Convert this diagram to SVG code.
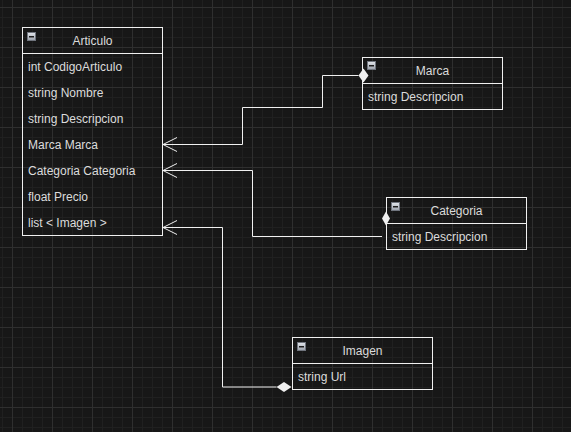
<svg xmlns="http://www.w3.org/2000/svg" width="571" height="432" viewBox="0 0 571 432">
  <defs>
    <pattern id="minor" patternUnits="userSpaceOnUse" x="2" y="7" width="10" height="10">
      <path d="M0,0.5 H10 M0.5,0 V10" stroke="#202020" stroke-width="1" fill="none"/>
    </pattern>
    <pattern id="major" patternUnits="userSpaceOnUse" x="12" y="7" width="40" height="40">
      <path d="M0,0.5 H40 M0.5,0 V40" stroke="#2f2f2f" stroke-width="1" fill="none"/>
    </pattern>
    <linearGradient id="ig" x1="0" y1="0" x2="0" y2="1">
      <stop offset="0" stop-color="#e4e7ec"/>
      <stop offset="1" stop-color="#9aa0aa"/>
    </linearGradient>
    <g id="minus">
      <rect x="0.5" y="0.5" width="8" height="8" fill="url(#ig)" stroke="#70757e" stroke-width="1"/>
      <rect x="2" y="4" width="5" height="1.5" fill="#1e1e1e"/>
    </g>
  </defs>
  <style>
    .box { fill: none; stroke: #f0f0f0; stroke-width: 1; }
    .title { font-family: "Liberation Sans", Arial, sans-serif; font-size: 12px; fill: #dcdcdc; text-anchor: middle; }
    .row { font-family: "Liberation Sans", Arial, sans-serif; font-size: 12px; fill: #dcdcdc; }
    .edge { fill: none; stroke: #f0f0f0; stroke-width: 1; }
    .diamond { fill: #f0f0f0; stroke: none; }
  </style>
  <rect width="571" height="432" fill="#171717"/>
  <rect width="571" height="432" fill="url(#minor)"/>
  <rect width="571" height="432" fill="url(#major)"/>

  <g id="connectors">
    <path class="edge" d="M358.5,75.5 H322.5 V107.5 H242.5 V144.5 H163"/>
    <polyline class="edge" points="177,137.5 163,144.5 177,151.5"/>
    <polygon class="diamond" points="358.5,75.5 363.5,68.5 368.5,75.5 363.5,82.5"/>

    <path class="edge" d="M382,236.5 H252.5 V170.5 H163"/>
    <polyline class="edge" points="177,163.5 163,170.5 177,177.5"/>
    <polygon class="diamond" points="382,218.5 386,211.5 390,218.5 386,225.5"/>

    <path class="edge" d="M276.5,387 H222.5 V227.5 H163"/>
    <polyline class="edge" points="177,220.5 163,227.5 177,234.5"/>
    <polygon class="diamond" points="276.5,387 284,382 291.5,387 284,392"/>
  </g>

  <g id="Articulo">
    <rect class="box" x="22.5" y="27.5" width="140" height="208"/>
    <line class="box" x1="22.5" y1="53.5" x2="162.5" y2="53.5"/>
    <use href="#minus" x="27" y="32"/>
    <text class="title" x="92.5" y="44.5">Articulo</text>
    <text class="row" x="28" y="70.5">int CodigoArticulo</text>
    <text class="row" x="28" y="96.5">string Nombre</text>
    <text class="row" x="28" y="122.5">string Descripcion</text>
    <text class="row" x="28" y="148.5">Marca Marca</text>
    <text class="row" x="28" y="174.5">Categoria Categoria</text>
    <text class="row" x="28" y="200.5">float Precio</text>
    <text class="row" x="28" y="226.5">list &lt; Imagen &gt;</text>
  </g>

  <g id="Marca">
    <rect class="box" x="362.5" y="57.5" width="140" height="52"/>
    <line class="box" x1="362.5" y1="83.5" x2="502.5" y2="83.5"/>
    <use href="#minus" x="367" y="61"/>
    <text class="title" x="432.5" y="74.5">Marca</text>
    <text class="row" x="368" y="100.5">string Descripcion</text>
  </g>

  <g id="Categoria">
    <rect class="box" x="386.5" y="197.5" width="140" height="52"/>
    <line class="box" x1="386.5" y1="223.5" x2="526.5" y2="223.5"/>
    <use href="#minus" x="391" y="202"/>
    <text class="title" x="456.5" y="214.5">Categoria</text>
    <text class="row" x="392" y="240.5">string Descripcion</text>
  </g>

  <g id="Imagen">
    <rect class="box" x="292.5" y="337.5" width="140" height="52"/>
    <line class="box" x1="292.5" y1="363.5" x2="432.5" y2="363.5"/>
    <use href="#minus" x="297" y="342"/>
    <text class="title" x="362.5" y="354.5">Imagen</text>
    <text class="row" x="298" y="380.5">string Url</text>
  </g>
</svg>
